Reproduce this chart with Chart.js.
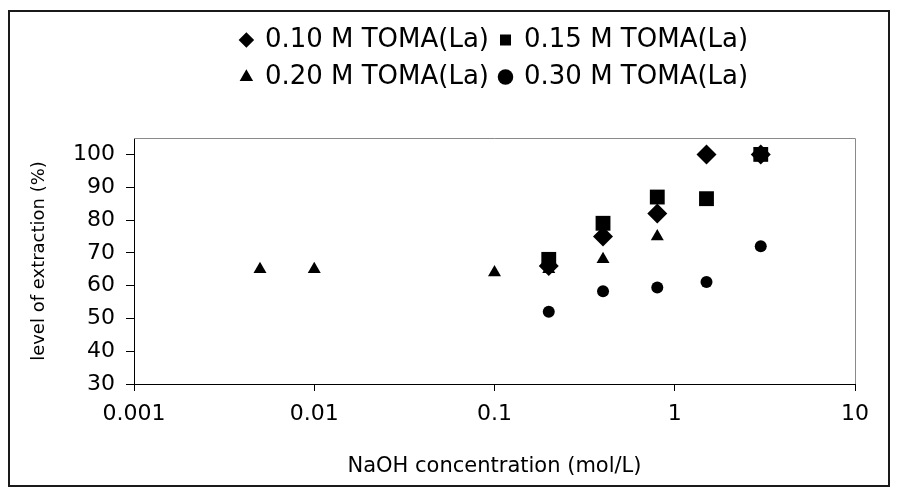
<!DOCTYPE html>
<html>
<head>
<meta charset="utf-8">
<script src="https://cdn.jsdelivr.net/npm/chart.js@4.4.0/dist/chart.umd.min.js"></script>
<style>
    body { margin: 0; background: #fff; }
    #chart { position: absolute; left: 0; top: 0; }
    #frame {
        position: absolute; left: 8px; top: 10px; width: 882px; height: 477px;
        border: 2px solid #1a1a1a; box-sizing: border-box; pointer-events: none;
    }
</style>
</head>
<body>
<canvas id="chart" width="899" height="494"></canvas>
<div id="frame"></div>
<script>
const seriesNames = ['0.10 M TOMA(La)', '0.15 M TOMA(La)', '0.20 M TOMA(La)', '0.30 M TOMA(La)'];

const naoh010 = [0.2, 0.4, 0.8, 1.5, 3];
const ext010 = [66, 75, 82, 100, 100];

const naoh015 = [0.2, 0.4, 0.8, 1.5, 3];
const ext015 = [68, 79, 87, 86.5, 100];

const naoh020 = [0.005, 0.01, 0.1, 0.2, 0.4, 0.8];
const ext020 = [65, 65, 64, 65, 68, 75];

const naoh030 = [0.2, 0.4, 0.8, 1.5, 3];
const ext030 = [52, 58.3, 59.4, 61.1, 72];

const xTicks = [0.001, 0.01, 0.1, 1, 10];
const yTicks = [30, 40, 50, 60, 70, 80, 90, 100];

const xTitle = 'NaOH concentration (mol/L)';
const yTitle = 'level of extraction (%)';

function toPoints(xs, ys) {
    return xs.map((x, i) => ({ x: x, y: ys[i] }));
}

// Серая рамка сверху и справа от области построения
const plotFrame = {
    id: 'plotFrame',
    beforeDatasetsDraw(chart) {
        const { ctx, chartArea: a } = chart;
        ctx.save();
        ctx.strokeStyle = '#8a8a8a';
        ctx.lineWidth = 1;
        ctx.beginPath();
        ctx.moveTo(a.left, Math.round(a.top) + 0.5);
        ctx.lineTo(Math.round(a.right) + 0.5, Math.round(a.top) + 0.5);
        ctx.lineTo(Math.round(a.right) + 0.5, a.bottom);
        ctx.stroke();
        ctx.restore();
    }
};

// Легенда стоит выше, чем её ставит раскладка
const legendSpot = {
    id: 'legendSpot',
    afterLayout(chart) {
        const lg = chart.legend;
        const h = lg.bottom - lg.top;
        lg.top = 16;
        lg.bottom = 16 + h;
    }
};

Chart.defaults.font.family = '"DejaVu Sans", Verdana, sans-serif';
Chart.defaults.color = '#000';

const shapes = ['rectRot', 'rect', 'triangle', 'circle'];
const radii = [10, 10.5, 7.5, 6];
const xsAll = [naoh010, naoh015, naoh020, naoh030];
const ysAll = [ext010, ext015, ext020, ext030];

new Chart(document.getElementById('chart'), {
    type: 'scatter',
    data: {
        datasets: seriesNames.map((name, i) => ({
            label: name,
            data: toPoints(xsAll[i], ysAll[i]),
            pointStyle: shapes[i],
            pointRadius: radii[i],
            pointHoverRadius: radii[i],
            backgroundColor: '#000',
            borderColor: '#000',
            borderWidth: 0
        }))
    },
    options: {
        responsive: false,
        animation: false,
        layout: { padding: { top: 54, left: 25, right: 44, bottom: 11 } },
        plugins: {
            tooltip: { enabled: false },
            legend: {
                position: 'top',
                fullSize: false,
                labels: {
                    usePointStyle: true,
                    boxWidth: 11,
                    boxHeight: 11,
                    padding: 11,
                    font: { size: 26 },
                    color: '#000'
                }
            }
        },
        scales: {
            x: {
                type: 'logarithmic',
                min: 0.001,
                max: 10,
                afterBuildTicks: (scale) => { scale.ticks = xTicks.map(v => ({ value: v })); },
                afterFit: (scale) => { scale.height = 99; },
                ticks: {
                    font: { size: 22 },
                    padding: 10,
                    autoSkip: false,
                    maxRotation: 0,
                    callback: (v) => String(v)
                },
                grid: { drawOnChartArea: false, tickLength: 7, color: '#000' },
                border: { color: '#000', width: 1 },
                title: { display: true, text: xTitle, font: { size: 21 } }
            },
            y: {
                min: 30,
                max: 105,
                afterBuildTicks: (scale) => { scale.ticks = yTicks.map(v => ({ value: v })); },
                afterFit: (scale) => { scale.width = 109; },
                ticks: { font: { size: 22 }, padding: 11 },
                grid: { drawOnChartArea: false, tickLength: 8, color: '#000' },
                border: { color: '#000', width: 1 },
                title: { display: true, text: yTitle, font: { size: 18 } }
            }
        }
    },
    plugins: [plotFrame, legendSpot]
});
</script>
</body>
</html>
